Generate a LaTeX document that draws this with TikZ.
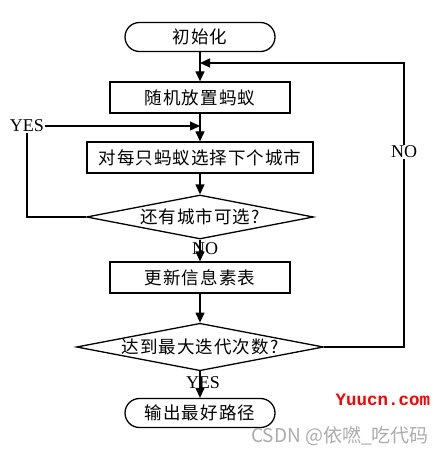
\documentclass[tikz,border=0pt]{standalone}
\usepackage{fontspec}
\setmainfont{Liberation Serif}
\newfontfamily\cjk[LetterSpace=6]{Noto Sans CJK SC}
\newfontfamily\cjkplain{Noto Sans CJK SC}
\newfontfamily\wmmono{Liberation Mono}
\usetikzlibrary{arrows.meta,shapes.geometric}
\begin{document}
\begin{tikzpicture}[x=1pt,y=-1pt, line width=1.3pt,
  cjktext/.style={font=\cjk\fontsize{17.5}{18}\selectfont},
  term/.style={draw, rounded corners=14.5pt, minimum width=150pt, minimum height=29pt, inner sep=0pt, cjktext},
  procbox/.style={draw, minimum height=31pt, inner sep=0pt, cjktext},
  decide/.style={draw, diamond, aspect=5, inner sep=0pt, cjktext},
  flow/.style={-{Triangle[length=10pt,width=9pt]}},
  lbl/.style={font=\fontsize{18}{18}\selectfont, inner sep=0pt}
]
\useasboundingbox (0,0) rectangle (444,454);
\node[term] (start) at (200,37) {初始化};
\node[procbox, minimum width=180pt] (place) at (200,97.5) {随机放置蚂蚁};
\node[procbox, minimum width=226pt] (choose) at (200,157.5) {对每只蚂蚁选择下个城市};
\node[decide, minimum width=227pt, minimum height=44pt] (more) at (200,217) {还有城市可选?};
\node[procbox, minimum width=180pt] (update) at (200,277.5) {更新信息素表};
\node[decide, minimum width=247pt, minimum height=47pt] (maxit) at (200,347) {达到最大迭代次数?};
\node[term] (out) at (200,413) {输出最好路径};

\coordinate (merge1) at (200,63);
\coordinate (merge2) at (200,126);
\node[lbl] (yes1) at (27,126) {YES};
\node[lbl] (no1) at (404,152) {NO};
\node[lbl] (no2) at (205,249) {NO};
\node[lbl] (yes2) at (203,383) {YES};

\draw[flow] (start) -- (place);
\draw[flow] (place) -- (choose);
\draw[flow] (choose) -- (more);
\draw[flow] (more) -- (update);
\draw[flow] (update) -- (maxit);
\draw[flow] (maxit) -- (out);
\draw (more.west) -| (yes1.south);
\draw[flow] (yes1.east) -- (merge2);
\draw (maxit.east) -| (no1.south);
\draw[flow] (no1.north) |- (merge1);

\node[text=red, font=\wmmono\bfseries\fontsize{17.5}{18}\selectfont, inner sep=0pt] (wm1) at (383,400) {Yuucn.com};
\node[text=black!33, font=\cjkplain\fontsize{19}{19}\selectfont, inner sep=0pt] (wm2) at (340,436) {CSDN @依嘫\_吃代码};
\end{tikzpicture}
\end{document}
